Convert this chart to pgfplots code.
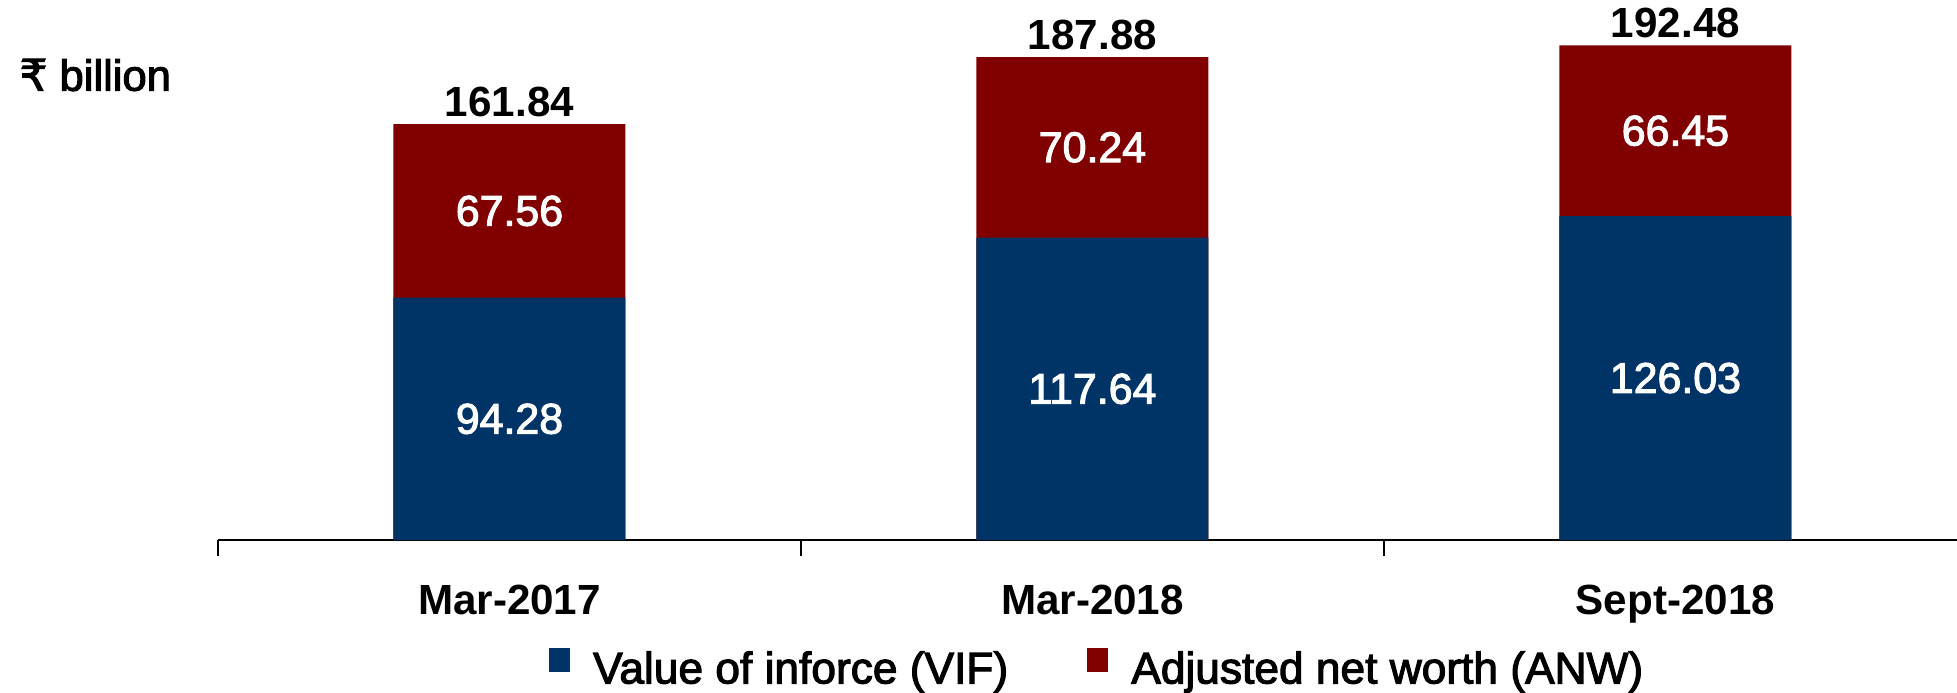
\documentclass[border=0pt]{standalone}
\usepackage{pgfplots}
\pgfplotsset{compat=1.18}
\usepackage{pgfplotstable}
\usepackage{fontspec}
\setmainfont{Liberation Sans}
\newfontfamily\medfont[FakeBold=2.5]{Liberation Sans}
\newfontfamily\rupeefont[FakeBold=2.5]{DejaVu Sans}

\definecolor{vifblue}{RGB}{0,51,102}
\definecolor{anwred}{RGB}{128,0,0}

% embedded value, Rs billion
\pgfplotstableread{
x vif anw
0 94.28 67.56
1 117.64 70.24
2 126.03 66.45
}\evdata

\begin{document}
\begin{tikzpicture}
\path[use as bounding box] (0,0) rectangle (19.57,6.92);
\node[anchor=west, inner sep=0pt, font=\medfont\fontsize{12.4}{14}\selectfont] at (0.19,6.17) {{\rupeefont ₹} billion};
\begin{axis}[
  at={(2.18cm,1.52cm)}, anchor=south west,
  scale only axis, width=17.39cm, height=5.14cm,
  xmin=-0.5, xmax=2.483, ymin=0, ymax=200,
  axis x line*=bottom, axis y line=none, ytick=\empty,
  x axis line style={-, line width=0.6pt, black},
  xtick={0,1,2}, xticklabels={Mar-2017,Mar-2018,Sept-2018},
  major tick length=0pt,
  minor xtick={-0.5,0.5,1.5},
  minor tick length=0.16cm,
  tick align=outside,
  minor x tick style={line width=0.6pt, black},
  xticklabel style={font=\bfseries\fontsize{12}{14}\selectfont, anchor=base, yshift=-0.74cm},
  clip=false,
  reverse legend,
  legend columns=-1,
  legend image code/.code={\fill[#1] (0cm,-0.02cm) rectangle (0.21cm,0.22cm);},
  legend style={at={(0.507,-0.253)}, anchor=center, draw=none, fill=none,
    font=\medfont\fontsize{12.6}{14}\selectfont,
    /tikz/every odd column/.append style={column sep=0.16cm},
    /tikz/every even column/.append style={column sep=0.72cm}},
]
\addplot[ybar, bar width=2.32cm, bar shift=0pt, fill=anwred, draw=none]
  table[x=x, y expr=\thisrow{vif}+\thisrow{anw}] {\evdata};
\addlegendentry{Adjusted net worth (ANW)}
\addplot[ybar, bar width=2.32cm, bar shift=0pt, fill=vifblue, draw=none]
  table[x=x, y=vif] {\evdata};
\addlegendentry{Value of inforce (VIF)}

% segment labels
\addplot[forget plot, draw=none, mark=none, point meta=explicit,
  nodes near coords={\pgfmathprintnumber[fixed, fixed zerofill, precision=2, assume math mode=true]{\pgfplotspointmeta}},
  every node near coord/.style={anchor=center, text=white, font=\medfont\fontsize{12.2}{14}\selectfont}]
  table[x=x, y expr=\thisrow{vif}/2, meta=vif] {\evdata};
\addplot[forget plot, draw=none, mark=none, point meta=explicit,
  nodes near coords={\pgfmathprintnumber[fixed, fixed zerofill, precision=2, assume math mode=true]{\pgfplotspointmeta}},
  every node near coord/.style={anchor=center, text=white, font=\medfont\fontsize{12.2}{14}\selectfont}]
  table[x=x, y expr=\thisrow{vif}+\thisrow{anw}/2, meta=anw] {\evdata};
% totals
\addplot[forget plot, draw=none, mark=none,
  point meta={\thisrow{vif}+\thisrow{anw}},
  nodes near coords={\pgfmathprintnumber[fixed, fixed zerofill, precision=2, assume math mode=true]{\pgfplotspointmeta}},
  every node near coord/.style={anchor=base, yshift=0.08cm, font=\bfseries\fontsize{12}{14}\selectfont}]
  table[x=x, y expr=\thisrow{vif}+\thisrow{anw}] {\evdata};
\end{axis}
\end{tikzpicture}
\end{document}
